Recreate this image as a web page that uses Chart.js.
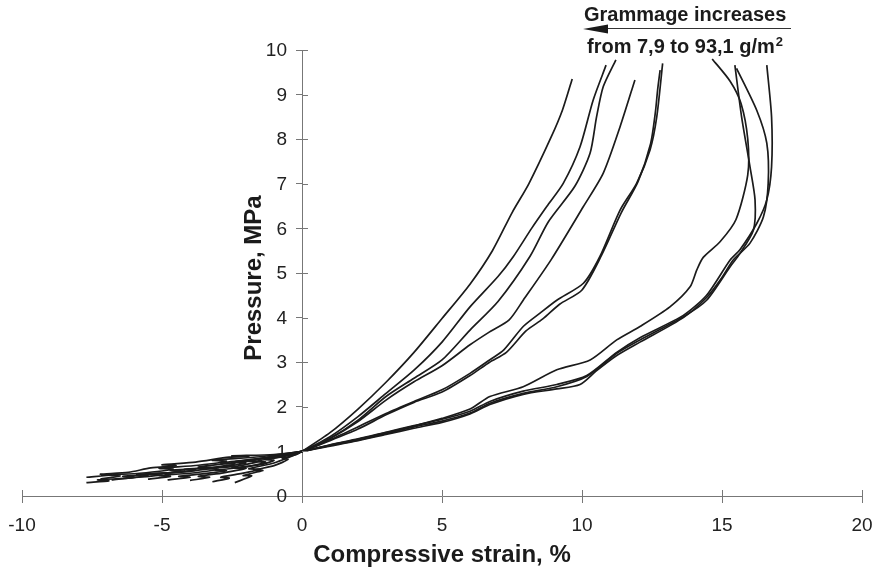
<!DOCTYPE html>
<html>
<head>
<meta charset="utf-8">
<script src="https://cdn.jsdelivr.net/npm/chart.js@4/dist/chart.umd.min.js"></script>
<style>
  body { margin: 0; background: #fff; }
  canvas { display: block; }
</style>
</head>
<body>
<canvas id="chart" width="882" height="569"></canvas>
<script>
// strain (%) / pressure (MPa) pairs, one curve per sample
const curveA = [[-2.4,0.3],[-1.8,0.45],[-2.1,0.46],[-1.4,0.57],[-1.7,0.58],[-1.0,0.68],[-0.5,0.82],[-0.7,0.84],[-0.2,0.93],[0,1],[1,1.42],[2,1.95],[3,2.55],[4,3.22],[5,3.98],[6,4.75],[6.8,5.5],[7.5,6.35],[8.1,7.0],[8.9,8.05],[9.3,8.65],[9.65,9.35]];
const curveB = [[-3.2,0.32],[-2.6,0.4],[-2.9,0.42],[-2.2,0.5],[-1.5,0.6],[-1.9,0.61],[-1.0,0.74],[-0.5,0.86],[0,1],[1,1.33],[2,1.78],[3,2.3],[4,2.82],[5,3.45],[6,4.24],[7,4.92],[7.55,5.37],[8.2,6.0],[8.74,6.49],[9.33,7.01],[9.93,7.83],[10.4,8.88],[10.86,9.66]];
const curveC = [[-4.0,0.35],[-3.3,0.42],[-3.7,0.44],[-2.8,0.52],[-2.0,0.62],[-2.5,0.63],[-1.5,0.7],[-1.0,0.8],[-1.3,0.82],[-0.4,0.92],[0,1],[1,1.29],[2,1.7],[3,2.23],[4,2.64],[5,3.05],[6,3.72],[7,4.36],[8.14,5.37],[8.8,6.15],[9.75,6.95],[10.29,7.69],[10.52,8.5],[10.76,9.18],[11.21,9.78]];
const curveD = [[-4.8,0.36],[-4.0,0.42],[-4.4,0.44],[-3.5,0.5],[-2.7,0.57],[-3.1,0.58],[-2.0,0.65],[-1.3,0.76],[-1.7,0.77],[-0.7,0.88],[0,1],[1,1.29],[2,1.67],[3,2.15],[4,2.56],[5,2.92],[6,3.39],[6.7,3.68],[7.4,3.95],[7.9,4.39],[8.9,5.3],[10.05,6.49],[10.76,7.24],[11.36,8.28],[11.89,9.33]];
const curveE = [[-5.5,0.38],[-4.7,0.44],[-5.1,0.46],[-4.0,0.51],[-3.0,0.6],[-3.5,0.61],[-2.3,0.67],[-1.6,0.77],[-2.0,0.78],[-0.8,0.9],[0,1],[1,1.26],[2,1.55],[3,1.85],[4,2.12],[5,2.38],[6,2.75],[6.7,3.05],[7.2,3.27],[7.9,3.8],[8.5,4.1],[9.1,4.39],[10.05,4.77],[10.64,5.37],[11.36,6.41],[11.95,7.01],[12.43,7.76],[12.67,8.5],[12.88,9.7]];
const curveF = [[-6.2,0.4],[-5.5,0.46],[-5.9,0.48],[-4.8,0.52],[-3.8,0.58],[-4.2,0.6],[-3.0,0.65],[-2.0,0.74],[-2.5,0.76],[-1.0,0.88],[0,1],[1,1.24],[2,1.5],[3,1.82],[4,2.1],[5,2.33],[6,2.7],[6.7,3.0],[7.3,3.22],[8,3.7],[8.6,3.97],[9.2,4.3],[10,4.62],[10.7,5.4],[11.4,6.35],[12,7.05],[12.45,7.9],[12.62,8.6],[12.7,9.1],[12.79,9.55]];
const curveG = [[-6.8,0.36],[-6.0,0.42],[-6.4,0.44],[-5.3,0.49],[-4.2,0.56],[-4.7,0.58],[-3.3,0.63],[-2.4,0.72],[-2.9,0.74],[-1.2,0.86],[0,1],[1,1.14],[2,1.27],[3,1.42],[4,1.57],[5,1.74],[6,1.95],[6.71,2.23],[7.9,2.45],[9.1,2.83],[10.29,3.05],[11.24,3.5],[12.07,3.8],[13.14,4.24],[13.86,4.69],[14.1,5.07],[14.33,5.35],[14.93,5.7],[15.5,6.2],[15.92,7.2],[15.92,8.0],[15.68,8.8],[15.29,9.3],[14.65,9.8]];
const curveH = [[-7.2,0.38],[-6.5,0.45],[-6.9,0.47],[-5.8,0.51],[-4.6,0.6],[-5.1,0.62],[-3.7,0.69],[-2.7,0.78],[-3.2,0.8],[-1.5,0.88],[0,1],[1,1.13],[2,1.25],[3,1.4],[4,1.55],[5,1.68],[6,1.86],[6.71,2.08],[7.9,2.3],[9.1,2.45],[10.17,2.68],[11.24,3.2],[12.07,3.5],[13.62,4.02],[14.45,4.39],[15.29,5.14],[15.6,5.4],[16.12,5.96],[16.18,6.64],[16.0,7.38],[15.7,8.5],[15.46,9.66]];
const curveI = [[-7.7,0.3],[-6.9,0.34],[-7.3,0.36],[-6.2,0.4],[-5.0,0.47],[-5.5,0.49],[-4.2,0.54],[-3.2,0.63],[-3.7,0.65],[-2.0,0.78],[-0.8,0.92],[0,1],[1,1.12],[2,1.24],[3,1.38],[4,1.52],[5,1.65],[6,1.84],[6.71,2.05],[7.9,2.28],[9.1,2.4],[9.93,2.5],[10.5,2.8],[11.24,3.15],[12.07,3.45],[13.62,4.0],[14.45,4.45],[15.0,4.9],[15.4,5.29],[16.0,5.67],[16.48,6.26],[16.65,7.01],[16.6,7.91],[16.24,8.65],[15.52,9.59]];
const curveJ = [[-7.7,0.42],[-6.8,0.47],[-7.2,0.49],[-6.2,0.53],[-5.4,0.63],[-4.5,0.68],[-5.0,0.7],[-3.8,0.76],[-2.6,0.87],[-1.9,0.89],[-2.5,0.9],[-1.0,0.93],[0,1],[1,1.15],[2,1.28],[3,1.43],[4,1.58],[5,1.72],[6,1.9],[6.71,2.12],[7.9,2.35],[9.1,2.5],[10.17,2.7],[11.24,3.22],[12.07,3.55],[13.62,4.05],[14.45,4.5],[15.29,5.29],[15.64,5.52],[16.24,6.11],[16.6,6.64],[16.77,7.38],[16.77,8.5],[16.6,9.66]];

const curves = [curveA, curveB, curveC, curveD, curveE, curveF, curveG, curveH, curveI, curveJ];

const strainRange = [-10, 20];
const pressureRange = [0, 10];

const xTitle = 'Compressive strain, %';
const yTitle = 'Pressure, MPa';
const noteTop = 'Grammage increases';
const noteBottom = 'from 7,9 to 93,1 g/m';

const axisColor = '#777';
const lineColor = '#1b1b1b';
const fontFamily = '"Liberation Sans", Arial, sans-serif';

const datasets = curves.map(c => ({
    data: c.map(p => ({x: p[0], y: p[1]})),
    showLine: true,
    borderColor: lineColor,
    borderWidth: 1.7,
    pointRadius: 0,
    tension: 0.25,
    fill: false,
}));

// y tick labels sit left of the axis (Chart.js puts them on the axis when it is placed at x=0)
const yLabels = {
    id: 'yLabels',
    beforeDatasetsDraw(chart) {
        const ctx = chart.ctx;
        const xs = chart.scales.x, ys = chart.scales.y;
        const x0 = xs.getPixelForValue(0);
        ctx.save();
        ctx.fillStyle = '#222';
        ctx.font = '19px ' + fontFamily;
        ctx.textAlign = 'right';
        ctx.textBaseline = 'middle';
        ys.ticks.forEach(t => ctx.fillText(String(t.value), x0 - 15, ys.getPixelForValue(t.value) + 1));
        ctx.restore();
    }
};

// titles, the inner half of the tick marks and the grammage note
const extras = {
    id: 'extras',
    afterDraw(chart) {
        const ctx = chart.ctx;
        const xs = chart.scales.x, ys = chart.scales.y;
        const x0 = xs.getPixelForValue(0), y0 = ys.getPixelForValue(0);
        ctx.save();
        ctx.strokeStyle = axisColor;
        ctx.lineWidth = 1;
        for (let v = strainRange[0]; v <= strainRange[1]; v += 5) {
            const px = Math.round(xs.getPixelForValue(v)) + 0.5;
            ctx.beginPath(); ctx.moveTo(px, y0); ctx.lineTo(px, y0 - 6); ctx.stroke();
        }
        for (let v = pressureRange[0]; v <= pressureRange[1]; v++) {
            const py = Math.round(ys.getPixelForValue(v)) + 0.5;
            ctx.beginPath(); ctx.moveTo(x0, py); ctx.lineTo(x0 + 6, py); ctx.stroke();
        }

        ctx.fillStyle = '#1b1b1b';
        ctx.font = 'bold 24px ' + fontFamily;
        ctx.textAlign = 'center';
        ctx.textBaseline = 'alphabetic';
        ctx.fillText(xTitle, (chart.chartArea.left + chart.chartArea.right) / 2, 562);

        ctx.save();
        ctx.translate(261, 278);
        ctx.rotate(-Math.PI / 2);
        ctx.fillText(yTitle, 0, 0);
        ctx.restore();

        ctx.textAlign = 'left';
        ctx.font = 'bold 20px ' + fontFamily;
        ctx.fillText(noteTop, 584, 21);
        const w = ctx.measureText(noteBottom).width;
        ctx.fillText(noteBottom, 587, 53);
        ctx.font = 'bold 13px ' + fontFamily;
        ctx.fillText('2', 588 + w, 46);

        ctx.strokeStyle = '#333';
        ctx.lineWidth = 1.2;
        ctx.beginPath(); ctx.moveTo(600, 28.5); ctx.lineTo(791, 28.5); ctx.stroke();
        ctx.beginPath();
        ctx.moveTo(583, 29); ctx.lineTo(608, 24.5); ctx.lineTo(608, 33.5); ctx.closePath();
        ctx.fill();
        ctx.restore();
    }
};

new Chart(document.getElementById('chart'), {
    type: 'scatter',
    data: {datasets: datasets},
    options: {
        responsive: false,
        animation: false,
        layout: {padding: {left: 22, right: 20, top: 50, bottom: 73}},
        plugins: {legend: {display: false}, tooltip: {enabled: false}},
        scales: {
            x: {
                type: 'linear',
                position: {y: 0},
                min: strainRange[0],
                max: strainRange[1],
                ticks: {stepSize: 5, font: {family: fontFamily, size: 19, lineHeight: 2.16}, color: '#222', padding: 3, maxRotation: 0},
                grid: {drawOnChartArea: false, drawTicks: true, tickLength: 6, color: axisColor},
                border: {color: axisColor, width: 1},
            },
            y: {
                type: 'linear',
                position: {x: 0},
                min: pressureRange[0],
                max: pressureRange[1],
                ticks: {stepSize: 1, display: false},
                grid: {drawOnChartArea: false, drawTicks: true, tickLength: 6, color: axisColor},
                border: {color: axisColor, width: 1},
            }
        }
    },
    plugins: [yLabels, extras]
});
</script>
</body>
</html>
